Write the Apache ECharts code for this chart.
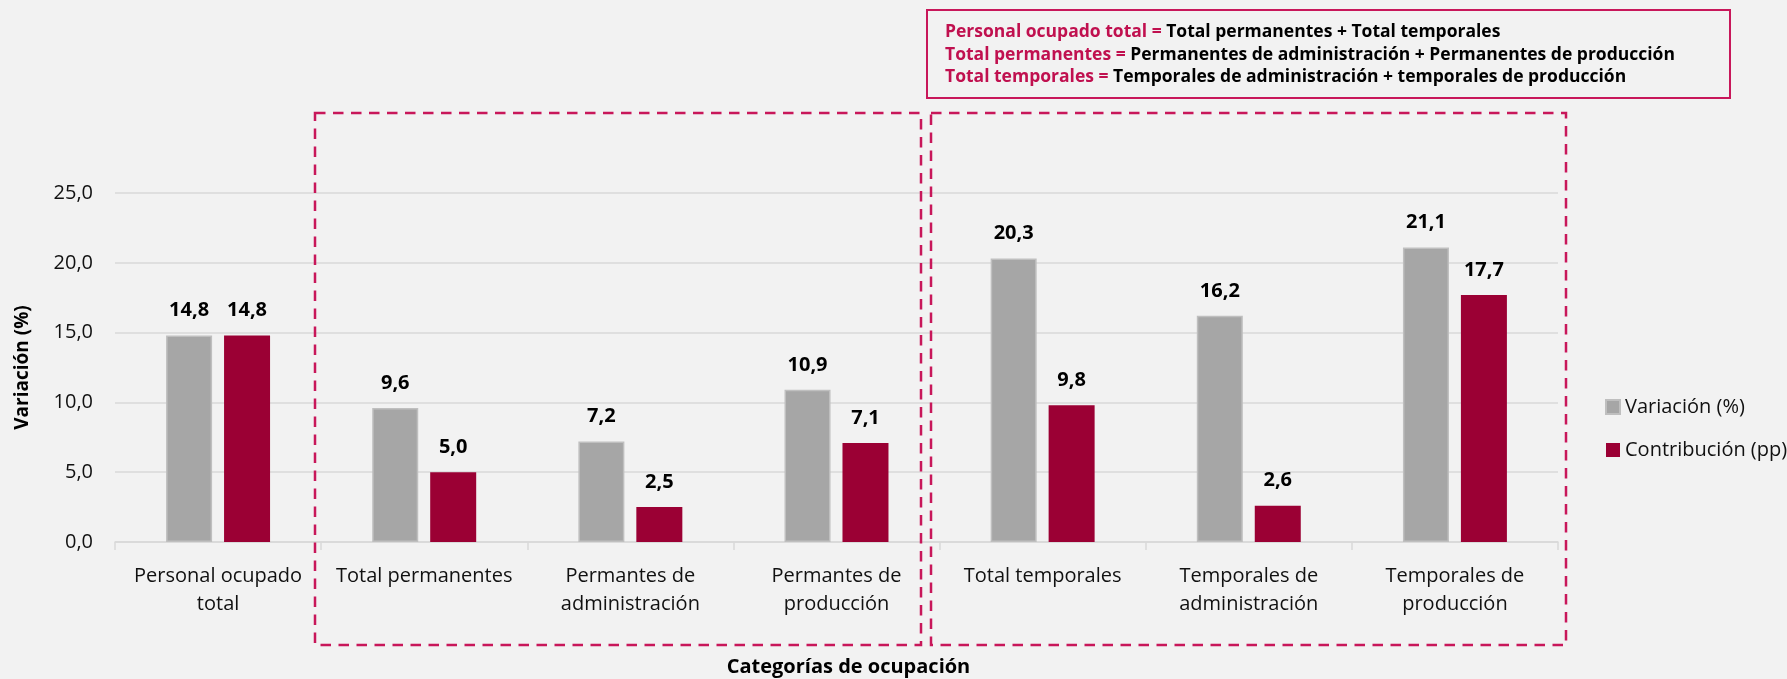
<!DOCTYPE html>
<html>
<head>
<meta charset="utf-8">
<title>Variación del personal ocupado</title>
<script src="https://cdn.jsdelivr.net/npm/echarts@6/dist/echarts.min.js"></script>
<style>
  html, body { margin: 0; padding: 0; background: #f2f2f2; }
  #main { width: 1787px; height: 679px; }
</style>
</head>
<body>
<div id="main"></div>
<script type="text/javascript">
var categories = [
    'Personal ocupado\ntotal',
    'Total permanentes',
    'Permantes de\nadministración',
    'Permantes de\nproducción',
    'Total temporales',
    'Temporales de\nadministración',
    'Temporales de\nproducción'
];
var variacion = [14.8, 9.6, 7.2, 10.9, 20.3, 16.2, 21.1];
var contribucion = [14.8, 5.0, 2.5, 7.1, 9.8, 2.6, 17.7];
var seriesNames = ['Variación (%)', 'Contribución (pp)'];

var formulaLines = [
    ['Personal ocupado total =', 'Total permanentes + Total temporales'],
    ['Total permanentes =', 'Permanentes de administración + Permanentes de producción'],
    ['Total temporales =', 'Temporales de administración + temporales de producción']
];

var FONT = '"Open Sans", "Noto Sans", sans-serif';
var RED = '#9b0034';
var GRAY = '#a6a6a6';
var PINK = '#c8175a';

function fmt(v) {
    return Number(v).toFixed(1).replace('.', ',');
}

var labelStyle = {
    show: true,
    position: 'top',
    distance: 15,
    fontFamily: FONT,
    fontSize: 20,
    fontWeight: 'bold',
    color: '#000',
    formatter: function (p) { return fmt(p.value); }
};

var formulaText = formulaLines.map(function (l) {
    return '{r|' + l[0] + '} {b|' + l[1] + '}';
}).join('\n');

var myChart = echarts.init(document.getElementById('main'));
var option = {
    backgroundColor: '#f2f2f2',
    animation: false,
    textStyle: { fontFamily: FONT },
    grid: {
        left: 115, right: 229, top: 193, bottom: 137,
        containLabel: false,
        outerBoundsMode: 'none'
    },
    legend: {
        orient: 'vertical',
        left: 1600,
        top: 392,
        itemWidth: 14,
        itemHeight: 14,
        itemGap: 23,
        icon: 'rect',
        textStyle: { fontFamily: FONT, fontSize: 20, color: '#111' },
        data: seriesNames
    },
    xAxis: {
        type: 'category',
        data: categories,
        name: 'Categorías de ocupación',
        nameLocation: 'middle',
        nameGap: 115,
        nameTextStyle: {
            fontFamily: FONT, fontSize: 20, fontWeight: 'bold', color: '#000',
            padding: [0, 0, 0, 24]
        },
        axisLine: { lineStyle: { color: '#d9d9d9', width: 1.5 } },
        axisTick: { show: true, length: 8, lineStyle: { color: '#d9d9d9', width: 1.5 } },
        axisLabel: {
            fontFamily: FONT, fontSize: 20, color: '#111',
            margin: 20, lineHeight: 28, interval: 0
        }
    },
    yAxis: {
        type: 'value',
        min: 0,
        max: 25,
        interval: 5,
        name: 'Variación (%)',
        nameLocation: 'middle',
        nameGap: 83,
        nameRotate: 90,
        nameTextStyle: {
            fontFamily: FONT, fontSize: 19, fontWeight: 'bold', color: '#000'
        },
        axisLine: { show: false },
        axisTick: { show: false },
        axisLabel: {
            fontFamily: FONT, fontSize: 20, color: '#111', margin: 22,
            formatter: function (v) { return fmt(v); }
        },
        splitLine: { lineStyle: { color: '#d9d9d9', width: 1.5 } }
    },
    series: [
        {
            name: seriesNames[0],
            type: 'bar',
            data: variacion,
            barWidth: 46,
            barGap: '26%',
            itemStyle: { color: GRAY, borderColor: '#bfbfbf', borderWidth: 1.5 },
            label: labelStyle
        },
        {
            name: seriesNames[1],
            type: 'bar',
            data: contribucion,
            barWidth: 46,
            itemStyle: { color: RED },
            label: labelStyle
        }
    ],
    graphic: [
        {
            type: 'rect',
            z: 100,
            shape: { x: 927, y: 10, width: 803, height: 88 },
            style: { fill: 'none', stroke: PINK, lineWidth: 2 }
        },
        {
            type: 'text',
            z: 100,
            left: 945,
            top: 21,
            style: {
                text: formulaText,
                font: 'bold 17.5px ' + FONT,
                lineHeight: 22.5,
                rich: {
                    r: { fill: '#c0104f', fontWeight: 'bold', fontSize: 17.5, fontFamily: FONT, lineHeight: 22.5 },
                    b: { fill: '#000', fontWeight: 'bold', fontSize: 17.5, fontFamily: FONT, lineHeight: 22.5 }
                }
            }
        },
        {
            type: 'rect',
            z: 100,
            shape: { x: 315, y: 113, width: 606, height: 532 },
            style: { fill: 'none', stroke: PINK, lineWidth: 2.5, lineDash: [10.5, 7.5] }
        },
        {
            type: 'rect',
            z: 100,
            shape: { x: 931, y: 113, width: 635, height: 532 },
            style: { fill: 'none', stroke: PINK, lineWidth: 2.5, lineDash: [10.5, 7.5] }
        }
    ]
};
myChart.setOption(option);
</script>
</body>
</html>
